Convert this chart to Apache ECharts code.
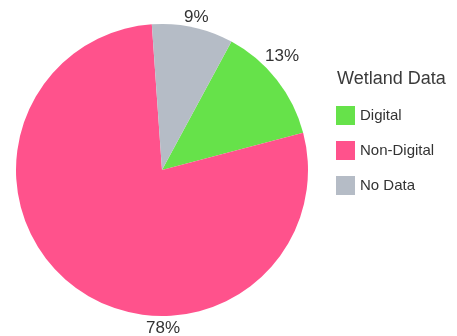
<!DOCTYPE html>
<html>
<head>
<meta charset="utf-8">
<style>
  html, body { margin: 0; padding: 0; background: #ffffff; }
  #chart { width: 457px; height: 336px; }
</style>
<script src="https://cdn.jsdelivr.net/npm/echarts@6/dist/echarts.min.js"></script>
</head>
<body>
<div id="chart"></div>
<script>
// Share of wetland records by data format (percent)
const categories = ['Digital', 'Non-Digital', 'No Data'];
const shares = [13, 78, 9];
const sliceColors = ['#66e24a', '#ff528c', '#b5bcc6'];
const legendTitle = 'Wetland Data';

const CX = 162, CY = 170, R = 146;
const START = 61.6;          // degrees, counter-clockwise from 3 o'clock
const LABEL_CLEARANCE = 3;   // px between the rim and the nearest edge of a label
const labelNudgeDeg = [-6, 0, 0];

// Angle (clockwise from 12 o'clock) at which each slice's label sits:
// small slices at their middle, the dominant slice underneath the pie.
const total = shares.reduce((a, b) => a + b, 0);
const labelAngles = [];
let acc = 90 - START;
shares.forEach((v, i) => {
  const span = v / total * 360;
  labelAngles.push((span > 180 ? 180 : acc + span / 2) + labelNudgeDeg[i]);
  acc += span;
});

// Push a w×h box out along angle a until it clears the rim.
function placeOutside(a, w, h) {
  const sx = Math.sin(a), cy = -Math.cos(a);
  for (let d = R; d < R + 80; d += 0.25) {
    const x = CX + d * sx, y = CY + d * cy;
    const nx = Math.min(Math.max(CX, x - w / 2), x + w / 2);
    const ny = Math.min(Math.max(CY, y - h / 2), y + h / 2);
    if (Math.hypot(nx - CX, ny - CY) >= R + LABEL_CLEARANCE) return [x, y];
  }
  return [CX + (R + 20) * sx, CY + (R + 20) * cy];
}

const chart = echarts.init(document.getElementById('chart'), null, { renderer: 'canvas' });
chart.setOption({
  animation: false,
  title: {
    text: legendTitle,
    left: 332,
    top: 65,
    textStyle: { fontFamily: 'Liberation Sans', fontSize: 18, fontWeight: 'normal', color: '#3a3a3a' }
  },
  legend: {
    orient: 'vertical',
    left: 331,
    top: 101,
    icon: 'rect',
    itemWidth: 19,
    itemHeight: 19,
    itemGap: 16,
    selectedMode: false,
    data: categories,
    textStyle: { fontFamily: 'Liberation Sans', fontSize: 15, color: '#333333' }
  },
  series: [{
    type: 'pie',
    center: [CX, CY],
    radius: R,
    startAngle: START,
    clockwise: true,
    avoidLabelOverlap: false,
    silent: true,
    data: categories.map((name, i) => ({
      name: name,
      value: shares[i],
      itemStyle: { color: sliceColors[i] }
    })),
    label: {
      show: true,
      position: 'outside',
      formatter: (p) => p.value + '%',
      fontFamily: 'Liberation Sans',
      fontSize: 17,
      color: '#333333'
    },
    labelLine: { show: false },
    labelLayout: (params) => {
      const a = labelAngles[params.dataIndex] * Math.PI / 180;
      const box = params.labelRect;
      const p = placeOutside(a, box.width, box.height * 0.8);
      return { x: p[0] + 1, y: p[1] + 2, align: 'center', verticalAlign: 'middle' };
    }
  }]
});
</script>
</body>
</html>
